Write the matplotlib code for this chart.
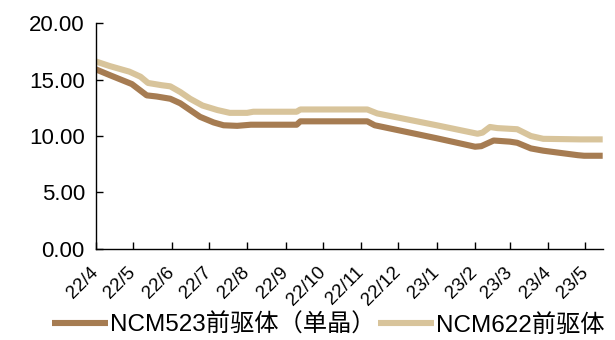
import pandas as pd
import matplotlib.pyplot as plt

plt.rcParams['font.family'] = ['Liberation Sans', 'Noto Sans CJK SC']

# 价格序列（万元/吨）
dates_523 = ['2022-04-01', '2022-04-12', '2022-04-30', '2022-05-12', '2022-05-20',
             '2022-05-31', '2022-06-08', '2022-06-16', '2022-06-24', '2022-07-05',
             '2022-07-13', '2022-07-24', '2022-08-04', '2022-09-10', '2022-09-13',
             '2022-11-06', '2022-11-12', '2023-01-01', '2023-02-01', '2023-02-06',
             '2023-02-16', '2023-03-01', '2023-03-07', '2023-03-18', '2023-03-28',
             '2023-04-25', '2023-04-30', '2023-05-15']
ncm523 = [15.9, 15.4, 14.6, 13.6, 13.5,
          13.3, 12.9, 12.3, 11.7, 11.2,
          10.95, 10.9, 11.0, 11.0, 11.3,
          11.3, 10.95, 9.8, 9.05, 9.1,
          9.6, 9.5, 9.4, 8.9, 8.7,
          8.3, 8.25, 8.25]

dates_622 = ['2022-04-01', '2022-04-12', '2022-04-28', '2022-05-07', '2022-05-13',
             '2022-05-24', '2022-05-31', '2022-06-08', '2022-06-16', '2022-06-26',
             '2022-07-08', '2022-07-18', '2022-08-01', '2022-08-06', '2022-09-10',
             '2022-09-13', '2022-11-06', '2022-11-14', '2023-01-01', '2023-02-03',
             '2023-02-07', '2023-02-13', '2023-02-19', '2023-03-07', '2023-03-18',
             '2023-03-28', '2023-04-27', '2023-05-15']
ncm622 = [16.6, 16.2, 15.7, 15.25, 14.7,
          14.5, 14.4, 13.9, 13.3, 12.7,
          12.3, 12.05, 12.05, 12.15, 12.15,
          12.35, 12.35, 12.0, 10.95, 10.2,
          10.3, 10.8, 10.7, 10.6, 10.0,
          9.75, 9.7, 9.7]

labels = ['NCM523前驱体（单晶）', 'NCM622前驱体']
month_labels = ['22/4', '22/5', '22/6', '22/7', '22/8', '22/9', '22/10', '22/11',
                '22/12', '23/1', '23/2', '23/3', '23/4', '23/5']

fig = plt.figure(figsize=(6.15, 3.4), dpi=100)
ax = fig.add_axes([0.156, 0.268, 0.824, 0.664])

ax.plot(pd.to_datetime(dates_523), ncm523, color='#A67C52', lw=4.4,
        solid_capstyle='butt', solid_joinstyle='round', label=labels[0])
ax.plot(pd.to_datetime(dates_622), ncm622, color='#D8C49B', lw=4.4,
        solid_capstyle='butt', solid_joinstyle='round', label=labels[1])

ax.set_ylim(0, 20)
ax.set_yticks([0, 5, 10, 15, 20])
ax.set_yticklabels([f'{v:.2f}' for v in [0, 5, 10, 15, 20]], fontsize=16)
ax.set_xlim(pd.Timestamp('2022-04-01'), pd.Timestamp('2023-05-15'))

ticks = pd.date_range('2022-04-01', '2023-05-01', freq='MS')
ax.set_xticks(ticks)
ax.set_xticklabels(month_labels, rotation=45, ha='right', va='center',
                   rotation_mode='anchor', fontsize=13.5)

for s in ['top', 'right']:
    ax.spines[s].set_visible(False)
for s in ['left', 'bottom']:
    ax.spines[s].set_linewidth(1.0)
ax.tick_params(axis='both', direction='in', length=5, width=1)
ax.tick_params(axis='x', pad=15)
ax.tick_params(axis='y', pad=8)

fig.legend(loc='center', bbox_to_anchor=(0.534, 0.044), ncol=2, frameon=False,
           fontsize=17.5, handlelength=2.3, handletextpad=0.1, columnspacing=0.1,
           borderpad=0, borderaxespad=0)

fig.savefig('out.png', dpi=100)
